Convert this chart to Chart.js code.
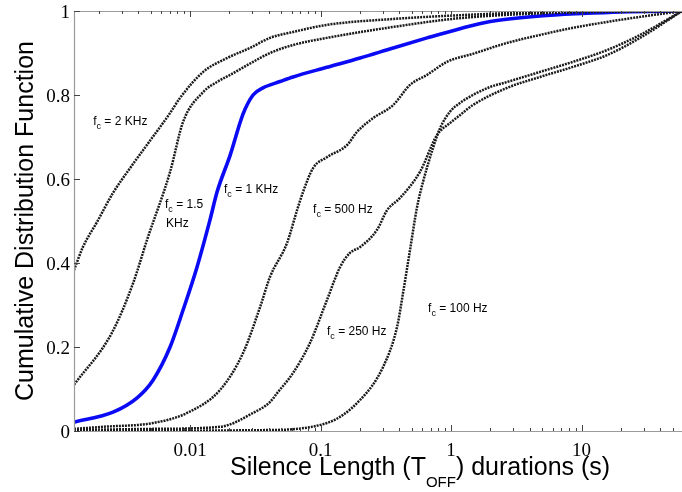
<!DOCTYPE html>
<html>
<head>
<meta charset="UTF-8">
<title>Silence length CDF</title>
<script src="https://cdn.jsdelivr.net/npm/chart.js"></script>
<style>
    html, body { margin: 0; padding: 0; background: #fff; }
    #wrap { width: 682px; height: 492px; position: relative; }
</style>
</head>
<body>
<div id="wrap"><canvas id="cdf"></canvas></div>
<script>
// values (x = silence duration in s, y = CDF)
const fc2kX   = [0.00129, 0.00151, 0.00194, 0.00257, 0.00347, 0.00512, 0.00703, 0.00838, 0.0126, 0.0192, 0.0288, 0.041, 0.0615, 0.112, 0.36, 1.17, 5.74, 58.9];
const fc2kY   = [0.383, 0.438, 0.498, 0.567, 0.626, 0.698, 0.757, 0.793, 0.855, 0.888, 0.912, 0.936, 0.950, 0.967, 0.981, 0.990, 0.998, 1.0];

const fc15kX  = [0.00129, 0.00251, 0.00366, 0.00468, 0.00703, 0.00884, 0.0126, 0.0161, 0.0203, 0.0274, 0.041, 0.0615, 0.112, 0.36, 1.17, 5.74, 58.9];
const fc15kY  = [0.110, 0.233, 0.352, 0.455, 0.617, 0.736, 0.807, 0.831, 0.848, 0.871, 0.900, 0.919, 0.936, 0.962, 0.983, 0.995, 1.0];

const fc1kX   = [0.00129, 0.00257, 0.00393, 0.0052, 0.00703, 0.00884, 0.0113, 0.0142, 0.0161, 0.0203, 0.0255, 0.0304, 0.0362, 0.0489, 0.0615, 0.112, 0.201, 0.36, 0.655, 1.17, 2.0, 4.81, 10, 20, 58.9];
const fc1kY   = [0.021, 0.045, 0.079, 0.121, 0.200, 0.288, 0.390, 0.502, 0.569, 0.657, 0.755, 0.800, 0.817, 0.832, 0.843, 0.866, 0.888, 0.912, 0.936, 0.958, 0.975, 0.988, 0.994, 0.998, 1.0];

const fc500X  = [0.00129, 0.00215, 0.0052, 0.00948, 0.017, 0.0255, 0.0344, 0.041, 0.0554, 0.0661, 0.0734, 0.0877, 0.112, 0.16, 0.19, 0.253, 0.36, 0.485, 0.655, 0.932, 1.47, 2.69, 4.81, 8.61, 15.7, 28.1, 58.9];
const fc500Y  = [0.005, 0.010, 0.019, 0.043, 0.098, 0.186, 0.295, 0.367, 0.448, 0.526, 0.569, 0.626, 0.652, 0.681, 0.712, 0.745, 0.776, 0.824, 0.848, 0.879, 0.898, 0.924, 0.943, 0.960, 0.974, 0.986, 1.0];

const fc250X  = [0.00129, 0.00493, 0.017, 0.0304, 0.041, 0.0464, 0.0615, 0.0831, 0.112, 0.141, 0.168, 0.201, 0.271, 0.324, 0.407, 0.578, 0.782, 0.98, 1.17, 1.47, 2.69, 4.81, 8.61, 15.7, 28.1, 58.9];
const fc250Y  = [0.002, 0.005, 0.010, 0.043, 0.069, 0.090, 0.138, 0.210, 0.312, 0.390, 0.424, 0.438, 0.479, 0.526, 0.555, 0.617, 0.705, 0.733, 0.752, 0.776, 0.817, 0.843, 0.867, 0.895, 0.936, 1.0];

const fc100X  = [0.00129, 0.0344, 0.112, 0.201, 0.301, 0.386, 0.429, 0.485, 0.549, 0.61, 0.728, 0.824, 0.98, 1.17, 1.47, 1.99, 2.69, 4.81, 8.61, 15.7, 28.1, 58.9];
const fc100Y  = [0.0, 0.002, 0.019, 0.074, 0.152, 0.248, 0.329, 0.431, 0.533, 0.593, 0.674, 0.721, 0.760, 0.781, 0.800, 0.819, 0.831, 0.855, 0.879, 0.907, 0.943, 1.0];

const xTickLabels = [0.01, 0.1, 1, 10];
const yTicks = [0, 0.2, 0.4, 0.6, 0.8, 1];

// curve labels: [text, subscript, rest, x, y]
const curveLabels = [
    ["f", "c", " = 2 KHz", 0.00181, 0.729],
    ["f", "c", " = 1.5", 0.00643, 0.531],
    ["", "", "KHz", 0.00655, 0.486],
    ["f", "c", " = 1 KHz", 0.0182, 0.567],
    ["f", "c", " = 500 Hz", 0.0877, 0.519],
    ["f", "c", " = 250 Hz", 0.112, 0.229],
    ["f", "c", " = 100 Hz", 0.667, 0.283]
];

function pts(xs, ys) {
    return xs.map((x, i) => ({ x: x, y: ys[i] }));
}

function dotted(data) {
    return {
        data: data,
        borderColor: "#1a1a1a",
        borderWidth: 2.5,
        borderDash: [2, 1],
        pointRadius: 0,
        cubicInterpolationMode: "monotone",
        fill: false
    };
}

const sans = "'Liberation Sans', Arial, sans-serif";
const serif = "'Liberation Serif', 'Times New Roman', serif";

function isLogTick(v) {
    const e = Math.floor(Math.log10(v) + 1e-9);
    const s = v / Math.pow(10, e);
    return Math.abs(s - Math.round(s)) < 1e-6;
}
function isDecade(v) {
    const l = Math.log10(v);
    return Math.abs(l - Math.round(l)) < 1e-6;
}

// axes box, inside ticks, tick labels, titles and curve labels
const decor = {
    id: "decor",
    afterDraw(chart) {
        const ctx = chart.ctx;
        const a = chart.chartArea;
        const xs = chart.scales.x, ys = chart.scales.y;
        ctx.save();
        ctx.strokeStyle = "#9a9a9a";
        ctx.lineWidth = 1.2;
        ctx.beginPath();
        ctx.moveTo(a.left, a.top + 0.5); ctx.lineTo(a.right, a.top + 0.5);
        ctx.moveTo(a.left + 0.5, a.top); ctx.lineTo(a.left + 0.5, a.bottom);
        ctx.moveTo(a.left, a.bottom + 0.5); ctx.lineTo(a.right, a.bottom + 0.5);
        ctx.stroke();

        ctx.strokeStyle = "#444";
        ctx.lineWidth = 1;
        ctx.beginPath();
        xs.ticks.forEach(t => {
            if (!isLogTick(t.value)) return;
            const px = Math.round(xs.getPixelForValue(t.value)) + 0.5;
            const len = isDecade(t.value) ? 6 : 3;
            ctx.moveTo(px, a.bottom); ctx.lineTo(px, a.bottom - len);
            ctx.moveTo(px, a.top); ctx.lineTo(px, a.top + len);
        });
        yTicks.forEach(v => {
            const py = Math.round(ys.getPixelForValue(v)) + 0.5;
            ctx.moveTo(a.left, py); ctx.lineTo(a.left + 6, py);
        });
        ctx.stroke();

        ctx.fillStyle = "#000";
        ctx.font = "19px " + serif;
        ctx.textBaseline = "alphabetic";
        ctx.textAlign = "right";
        yTicks.forEach(v => {
            ctx.fillText(String(Number(v.toFixed(1))), a.left - 4, ys.getPixelForValue(v) + 7);
        });
        ctx.textAlign = "center";
        xTickLabels.forEach(v => {
            ctx.fillText(String(v), xs.getPixelForValue(v), a.bottom + 25);
        });

        // y title
        ctx.save();
        ctx.translate(33, (a.top + a.bottom) / 2);
        ctx.rotate(-Math.PI / 2);
        ctx.font = "25px " + sans;
        ctx.textAlign = "center";
        ctx.fillText("Cumulative Distribution Function", 0, 0);
        ctx.restore();

        // x title with subscript
        ctx.textAlign = "left";
        let x = 230;
        const base = 475;
        ctx.font = "25px " + sans;
        ctx.fillText("Silence Length (T", x, base);
        x += ctx.measureText("Silence Length (T").width;
        ctx.font = "15px " + sans;
        ctx.fillText("OFF", x, base + 12);
        x += ctx.measureText("OFF").width;
        ctx.font = "25px " + sans;
        ctx.fillText(") durations (s)", x, base);

        // curve labels
        curveLabels.forEach(l => {
            let lx = xs.getPixelForValue(l[3]);
            const ly = ys.getPixelForValue(l[4]);
            ctx.font = "12px " + sans;
            ctx.fillText(l[0], lx, ly);
            lx += ctx.measureText(l[0]).width;
            ctx.font = "9px " + sans;
            ctx.fillText(l[1], lx, ly + 4);
            lx += ctx.measureText(l[1]).width;
            ctx.font = "12px " + sans;
            ctx.fillText(l[2], lx, ly);
        });
        ctx.restore();
    }
};

new Chart(document.getElementById("cdf"), {
    type: "line",
    data: {
        datasets: [
            dotted(pts(fc2kX, fc2kY)),
            dotted(pts(fc15kX, fc15kY)),
            dotted(pts(fc500X, fc500Y)),
            dotted(pts(fc250X, fc250Y)),
            dotted(pts(fc100X, fc100Y)),
            {
                data: pts(fc1kX, fc1kY),
                borderColor: "#0a0af5",
                borderWidth: 3.6,
                pointRadius: 0,
                cubicInterpolationMode: "monotone",
                fill: false
            }
        ]
    },
    options: {
        responsive: true,
        maintainAspectRatio: false,
        animation: false,
        layout: { padding: { top: 11, right: 0, left: 0, bottom: 0 } },
        plugins: { legend: { display: false }, tooltip: { enabled: false } },
        scales: {
            x: {
                type: "logarithmic",
                min: 0.00129,
                max: 58.9,
                border: { display: false },
                grid: { display: false, drawTicks: false },
                ticks: { display: false, autoSkip: false },
                afterFit: s => { s.height = 61; }
            },
            y: {
                min: 0,
                max: 1,
                border: { display: false },
                grid: { display: false, drawTicks: false },
                ticks: { display: false, stepSize: 0.2 },
                afterFit: s => { s.width = 74; }
            }
        }
    },
    plugins: [decor]
});
</script>
</body>
</html>
